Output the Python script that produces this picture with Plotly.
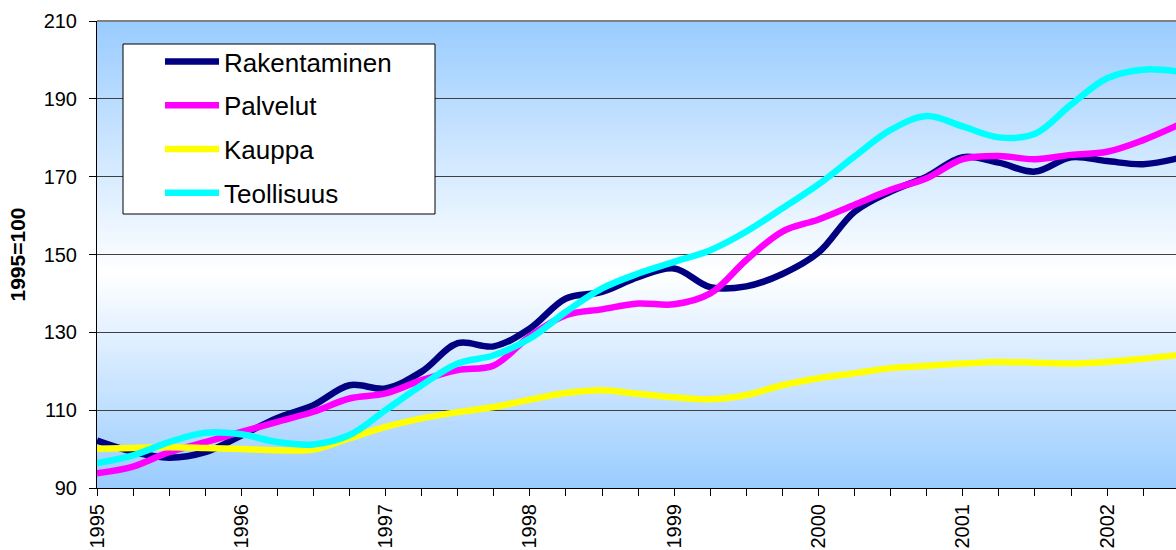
import plotly.graph_objects as go

# Quarterly observations, 1995 Q1 .. 2002 Q3 (decimal years)
periods = [1995.00, 1995.25, 1995.50, 1995.75, 1996.00, 1996.25, 1996.50, 1996.75,
           1997.00, 1997.25, 1997.50, 1997.75, 1998.00, 1998.25, 1998.50, 1998.75,
           1999.00, 1999.25, 1999.50, 1999.75, 2000.00, 2000.25, 2000.50, 2000.75,
           2001.00, 2001.25, 2001.50, 2001.75, 2002.00, 2002.25, 2002.50]

rakentaminen = [102.2, 99.3, 97.8, 99.2, 103.5, 108.0, 111.3, 116.4, 115.6, 119.9,
                127.2, 126.4, 131.0, 138.7, 140.4, 144.2, 146.4, 141.6, 141.8, 145.0,
                150.5, 161.0, 166.2, 170.0, 175.0, 173.6, 171.3, 175.0, 174.0, 173.2, 174.8]
palvelut = [93.8, 95.5, 99.2, 101.8, 104.4, 107.0, 109.6, 113.0, 114.3, 117.7,
            120.3, 121.5, 129.0, 134.4, 135.9, 137.4, 137.2, 140.0, 148.6, 155.9,
            159.0, 162.8, 166.6, 169.6, 174.5, 175.3, 174.5, 175.6, 176.4, 179.4, 183.4]
kauppa = [100.1, 100.3, 100.5, 100.3, 100.0, 99.7, 99.9, 102.8, 105.7, 107.9,
          109.5, 110.8, 112.7, 114.4, 115.1, 114.2, 113.3, 112.8, 113.9, 116.4,
          118.2, 119.5, 120.8, 121.4, 122.0, 122.4, 122.2, 122.0, 122.4, 123.2, 124.2]
teollisuus = [96.4, 98.4, 101.8, 104.2, 103.8, 101.8, 101.2, 103.6, 110.0, 116.4,
              122.0, 124.1, 128.4, 135.3, 141.3, 145.1, 148.1, 151.1, 155.9, 161.9,
              168.0, 175.2, 182.0, 185.6, 182.9, 180.1, 181.0, 188.5, 195.3, 197.5, 197.0]

series_names = ["Rakentaminen", "Palvelut", "Kauppa", "Teollisuus"]
series_colors = ["#000080", "#FF00FF", "#FFFF00", "#00FFFF"]
year_ticks = [1995, 1996, 1997, 1998, 1999, 2000, 2001, 2002]
year_labels = ["1995", "1996", "1997", "1998", "1999", "2000", "2001", "2002"]
y_ticks = [90, 110, 130, 150, 170, 190, 210]

FONT = "Arial, 'Liberation Sans', sans-serif"

W, H = 1176, 550
L, T, B = 97, 21, 62
PW = W - L          # plot width  (1079)
PH = H - T - B      # plot height (467)

fig = go.Figure()
for name, vals, col in zip(series_names, [rakentaminen, palvelut, kauppa, teollisuus], series_colors):
    fig.add_trace(go.Scatter(
        x=periods, y=vals, name=name, mode="lines", legendgroup=name,
        line=dict(color=col, width=6.5, shape="spline", smoothing=1.0),
        hoverinfo="x+y+name",
    ))

# vertical gradient background (blue - white - blue)
blue = (153, 204, 255)
white = (255, 255, 255)
center = 0.54
n = 120
shapes = []
for i in range(n):
    f0 = i / n
    f1 = (i + 1) / n
    fm = (f0 + f1) / 2  # fraction from top
    if fm <= center:
        t = fm / center
    else:
        t = (1 - fm) / (1 - center)
    c = tuple(int(round(blue[k] + (white[k] - blue[k]) * t)) for k in range(3))
    shapes.append(dict(type="rect", xref="paper", yref="paper",
                       x0=0, x1=1, y0=1 - f1 - 0.002, y1=1 - f0,
                       fillcolor="rgb(%d,%d,%d)" % c, line=dict(width=0), layer="below"))
# top border of plot area
shapes.append(dict(type="line", xref="paper", yref="paper", x0=0, x1=1, y0=1, y1=1,
                   line=dict(color="#808080", width=2), layer="above"))
# legend box (px: x 123..435, y 44..214)
shapes.append(dict(type="rect", xref="paper", yref="paper",
                   x0=(123 - L) / PW, x1=(435 - L) / PW,
                   y0=(T + PH - 214) / PH, y1=(T + PH - 44) / PH,
                   fillcolor="white", line=dict(color="black", width=1), layer="above"))

fig.update_layout(
    width=W, height=H,
    margin=dict(l=L, r=0, t=T, b=B, pad=0),
    paper_bgcolor="white",
    plot_bgcolor="rgb(153,204,255)",
    font=dict(family=FONT, color="black", size=20),
    shapes=shapes,
    showlegend=True,
    legend=dict(
        x=(160 - L) / PW, y=(T + PH - 38) / PH, xanchor="left", yanchor="top",
        bgcolor="rgba(0,0,0,0)", borderwidth=0,
        font=dict(family=FONT, size=26, color="black"),
        itemwidth=54, tracegroupgap=7,
        traceorder="grouped",
    ),
    xaxis=dict(
        range=[1995, 1995 + PW / 144.3],
        tickvals=year_ticks, ticktext=year_labels, tickangle=-90,
        ticks="outside", ticklen=7, tickcolor="black", tickwidth=1,
        minor=dict(dtick=0.25, tick0=1995, ticks="outside", ticklen=7, tickcolor="black", tickwidth=1, showgrid=False),
        showline=True, linecolor="black", linewidth=1,
        showgrid=False, zeroline=False, automargin=False,
        tickfont=dict(family=FONT, size=20, color="black"),
    ),
    yaxis=dict(
        range=[90, 210], tickvals=y_ticks,
        ticks="outside", ticklen=7, tickcolor="black", tickwidth=1,
        showline=True, linecolor="black", linewidth=1,
        showgrid=True, gridcolor="#404040", gridwidth=1,
        zeroline=False, automargin=False,
        ticklabelstandoff=8,
        tickfont=dict(family=FONT, size=20, color="black"),
        title=dict(text="<b>1995=100</b>", font=dict(family=FONT, size=21, color="black"), standoff=12),
    ),
)

# remove the page's default body margin so the figure fills the window exactly
fig.write_html("out.html", config={"displayModeBar": False},
               post_script="document.body.style.margin='0';document.body.style.overflow='hidden';")
